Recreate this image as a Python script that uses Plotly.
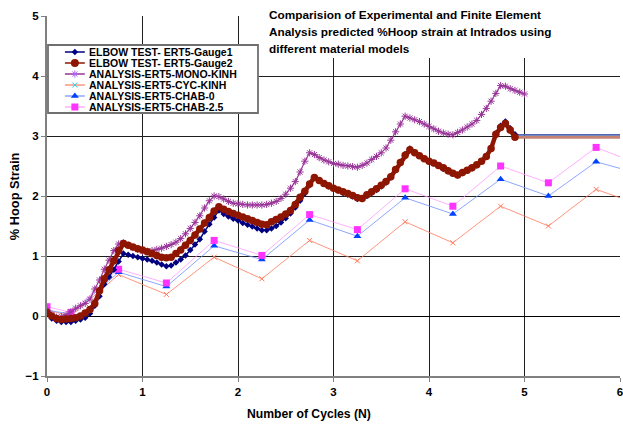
import plotly.graph_objects as go

# ---------------- data ----------------
gauge_x = [0.00, 0.05, 0.10, 0.15, 0.20, 0.25, 0.30, 0.35, 0.40, 0.45,
           0.50, 0.55, 0.60, 0.65, 0.70, 0.75, 0.80, 0.85, 0.90, 0.95,
           1.00, 1.05, 1.10, 1.15, 1.20, 1.25, 1.30, 1.35, 1.40, 1.45,
           1.50, 1.55, 1.60, 1.65, 1.70, 1.75, 1.80, 1.85, 1.90, 1.95,
           2.00, 2.05, 2.10, 2.15, 2.20, 2.25, 2.30, 2.35, 2.40, 2.45,
           2.50, 2.55, 2.60, 2.65, 2.70, 2.75, 2.80, 2.85, 2.90, 2.95,
           3.00, 3.05, 3.10, 3.15, 3.20, 3.25, 3.30, 3.35, 3.40, 3.45,
           3.50, 3.55, 3.60, 3.65, 3.70, 3.75, 3.80, 3.85, 3.90, 3.95,
           4.00, 4.05, 4.10, 4.15, 4.20, 4.25, 4.30, 4.35, 4.40, 4.45,
           4.50, 4.55, 4.60, 4.65, 4.70, 4.75, 4.80, 4.85, 4.90]

gauge1 = [0.03, -0.04, -0.08, -0.10, -0.10, -0.10, -0.08, -0.06, -0.03, 0.04,
          0.17, 0.33, 0.53, 0.65, 0.77, 0.91, 1.04, 1.02, 1.00, 0.98,
          0.96, 0.94, 0.92, 0.89, 0.86, 0.83, 0.84, 0.89, 0.94, 1.01,
          1.10, 1.19, 1.28, 1.41, 1.53, 1.64, 1.76, 1.70, 1.66, 1.62,
          1.59, 1.55, 1.52, 1.49, 1.46, 1.43, 1.43, 1.46, 1.50, 1.56,
          1.63, 1.71, 1.81, 1.92, 2.04, 2.18, 2.31, 2.26, 2.21, 2.16,
          2.12, 2.09, 2.05, 2.02, 1.99, 1.95, 1.95, 2.00, 2.05, 2.10,
          2.16, 2.22, 2.31, 2.44, 2.57, 2.70, 2.79, 2.73, 2.67, 2.62,
          2.57, 2.54, 2.50, 2.45, 2.41, 2.37, 2.34, 2.38, 2.42, 2.46,
          2.51, 2.58, 2.67, 2.80, 3.04, 3.17, 3.24, 3.13, 3.03]

gauge2 = [0.06, 0.00, -0.04, -0.06, -0.05, -0.04, -0.03, 0.00, 0.05, 0.11,
          0.21, 0.42, 0.62, 0.77, 0.92, 1.09, 1.21, 1.18, 1.15, 1.12,
          1.10, 1.07, 1.04, 1.01, 0.98, 0.97, 0.98, 1.04, 1.10, 1.18,
          1.26, 1.35, 1.45, 1.55, 1.64, 1.75, 1.82, 1.78, 1.74, 1.71,
          1.68, 1.65, 1.62, 1.59, 1.56, 1.53, 1.52, 1.57, 1.61, 1.65,
          1.70, 1.76, 1.86, 1.98, 2.08, 2.20, 2.31, 2.26, 2.21, 2.17,
          2.13, 2.10, 2.07, 2.04, 2.01, 1.97, 1.96, 2.02, 2.07, 2.12,
          2.18, 2.24, 2.32, 2.44, 2.56, 2.68, 2.77, 2.72, 2.67, 2.62,
          2.58, 2.55, 2.51, 2.47, 2.42, 2.38, 2.35, 2.39, 2.43, 2.47,
          2.52, 2.58, 2.66, 2.79, 3.03, 3.14, 3.21, 3.10, 2.98]

# constant readings after the test ended
hold_x = [4.91, 6.60]
gauge1_hold = [3.02, 3.02]
gauge2_hold = [2.98, 2.98]

mono_x = gauge_x + [4.95, 5.00]
mono_kinh = [0.10, 0.02, -0.02, -0.01, 0.02, 0.07, 0.13, 0.17, 0.21, 0.28,
             0.45, 0.60, 0.78, 0.93, 1.09, 1.20, 1.22, 1.18, 1.14, 1.11,
             1.08, 1.08, 1.09, 1.11, 1.13, 1.16, 1.19, 1.23, 1.29, 1.37,
             1.46, 1.56, 1.67, 1.80, 1.92, 2.00, 1.99, 1.95, 1.91, 1.88,
             1.87, 1.86, 1.85, 1.85, 1.85, 1.85, 1.86, 1.88, 1.91, 1.96,
             2.03, 2.13, 2.24, 2.40, 2.58, 2.72, 2.69, 2.64, 2.60, 2.57,
             2.54, 2.53, 2.51, 2.50, 2.49, 2.48, 2.51, 2.55, 2.61, 2.66,
             2.72, 2.80, 2.93, 3.07, 3.20, 3.33, 3.30, 3.27, 3.24, 3.20,
             3.16, 3.12, 3.08, 3.05, 3.03, 3.02, 3.06, 3.10, 3.15, 3.20,
             3.26, 3.36, 3.46, 3.58, 3.71, 3.84, 3.83, 3.79, 3.76, 3.73,
             3.70]

fe_x = [0.00, 0.25, 0.75, 1.25, 1.75, 2.25, 2.75, 3.25, 3.75, 4.25, 4.75, 5.25, 5.75, 6.25]
cyc_kinh = [0.10, 0.00, 0.69, 0.36, 0.98, 0.62, 1.26, 0.92, 1.57, 1.22, 1.83, 1.50, 2.11, 1.83]
chab_0 = [0.10, 0.03, 0.73, 0.49, 1.17, 0.94, 1.60, 1.33, 1.97, 1.70, 2.28, 2.00, 2.57, 2.35]
chab_25 = [0.155, 0.06, 0.78, 0.55, 1.26, 1.01, 1.69, 1.44, 2.12, 1.83, 2.50, 2.22, 2.81, 2.50]

series_names = ["ELBOW TEST- ERT5-Gauge1", "ELBOW TEST- ERT5-Gauge2",
                "ANALYSIS-ERT5-MONO-KINH", "ANALYSIS-ERT5-CYC-KINH",
                "ANALYSIS-ERT5-CHAB-0", "ANALYSIS-ERT5-CHAB-2.5"]
x_ticks = [0, 1, 2, 3, 4, 5, 6]
y_ticks = [-1, 0, 1, 2, 3, 4, 5]
title_lines = ["Comparision of Experimental and Finite Element",
               "Analysis predicted %Hoop strain at Intrados using",
               "different material models"]

# ---------------- styles ----------------
FONT = "Liberation Sans, Arial, sans-serif"
styles = [
    dict(line=dict(color="#000080", width=1.5), marker=dict(symbol="diamond", size=5, color="#000080")),
    dict(line=dict(color="#8e1600", width=4.5), marker=dict(symbol="circle", size=7.5, color="#8e1600")),
    dict(line=dict(color="#993399", width=1.2), marker=dict(symbol="asterisk-open", size=6,
                                                          line=dict(color="#b050b0", width=1))),
    dict(line=dict(color="#ff7a5c", width=0.8), marker=dict(symbol="x-thin-open", size=5,
                                                          line=dict(color="#ff6a4a", width=1))),
    dict(line=dict(color="#7090ff", width=0.8), marker=dict(symbol="triangle-up", size=7, color="#0040ff")),
    dict(line=dict(color="#ff9cff", width=0.8), marker=dict(symbol="square", size=7, color="#ff33ff")),
]
legend_line_w = [1.5, 1.5, 1.5, 1.2, 1.2, 1.2]

fig = go.Figure()

fig.add_trace(go.Scatter(x=hold_x, y=gauge2_hold, mode="lines",
                         line=dict(color="#c58373", width=3), showlegend=False))
fig.add_trace(go.Scatter(x=hold_x, y=gauge1_hold, mode="lines",
                         line=dict(color="#4f68b5", width=1.8), showlegend=False))

data = [(fe_x, cyc_kinh, 3), (fe_x, chab_0, 4), (fe_x, chab_25, 5),
        (mono_x, mono_kinh, 2), (gauge_x, gauge1, 0), (gauge_x, gauge2, 1)]
for xs, ys, i in data:
    fig.add_trace(go.Scatter(x=xs, y=ys, mode="lines+markers", name=series_names[i],
                             showlegend=False, **styles[i]))

# ---------------- legend (manual, compact) ----------------
row_y = [36, 47, 58, 69, 80, 91]  # local pixel rows inside overlay axes
for i, name in enumerate(series_names):
    st = styles[i]
    fig.add_trace(go.Scatter(x=[18, 38], y=[row_y[i], row_y[i]], mode="lines",
                             line=dict(color=st["line"]["color"], width=legend_line_w[i]),
                             xaxis="x2", yaxis="y2", showlegend=False, hoverinfo="skip"))
    mk = dict(st["marker"])
    if i == 1:
        mk["size"] = 8
    fig.add_trace(go.Scatter(x=[28], y=[row_y[i]], mode="markers", marker=mk,
                             xaxis="x2", yaxis="y2", showlegend=False, hoverinfo="skip"))
    fig.add_annotation(x=40, y=row_y[i], xref="x2", yref="y2", text="<b>%s</b>" % name,
                       showarrow=False, xanchor="left", yanchor="middle",
                       font=dict(family=FONT, size=10.5, color="black"))

shapes = [
    # legend box
    dict(type="rect", xref="x", yref="y", xsizemode="pixel", ysizemode="pixel",
         xanchor=0, yanchor=5, x0=1, x1=211, y0=-29, y1=-97, layer="between",
         fillcolor="white", line=dict(color="#6f6f6f", width=1.8)),
    # title background
    dict(type="rect", xref="x", yref="y", xsizemode="pixel", ysizemode="pixel",
         xanchor=0, yanchor=5, x0=219, x1=600, y0=20, y1=-42, layer="between",
         fillcolor="white", line=dict(width=0)),
]

title_y = [1.0028, 0.9556, 0.9083]
for t, yy in zip(title_lines, title_y):
    fig.add_annotation(x=0.3837, y=yy, xref="paper", yref="paper", text="<b>%s</b>" % t,
                       showarrow=False, xanchor="left", yanchor="middle",
                       font=dict(family=FONT, size=11.8, color="black"))

fig.add_annotation(x=-0.0573, y=0.5, xref="paper", yref="paper", text="<b>% Hoop Strain</b>",
                   textangle=-90, showarrow=False, xanchor="center", yanchor="middle",
                   font=dict(family=FONT, size=12.8, color="black"))
fig.add_annotation(x=0.4566, y=-0.1056, xref="paper", yref="paper", text="<b>Number of Cycles (N)</b>",
                   showarrow=False, xanchor="center", yanchor="middle",
                   font=dict(family=FONT, size=12.2, color="black"))

tickfont = dict(family=FONT, size=11.5, color="black", weight="bold")
fig.update_layout(
    width=623, height=428,
    margin=dict(l=47, r=0, t=16, b=52),
    paper_bgcolor="white", plot_bgcolor="white",
    showlegend=False,
    shapes=shapes,
    xaxis=dict(range=[0, 6], tickvals=x_ticks, showgrid=True, gridcolor="#1f1f1f", gridwidth=1,
               zeroline=False, showline=True, linecolor="#808080", linewidth=2,
               ticks="outside", ticklen=4, tickcolor="#808080", tickfont=tickfont,
               ticklabeloverflow="allow"),
    yaxis=dict(range=[-1, 5], tickvals=y_ticks, showgrid=True, gridcolor="#1f1f1f", gridwidth=1,
               zeroline=True, zerolinecolor="#000000", zerolinewidth=1,
               showline=True, linecolor="#808080", linewidth=2,
               ticks="outside", ticklen=4, tickcolor="#808080", tickfont=tickfont,
               ticklabeloverflow="allow"),
    xaxis2=dict(overlaying="x", range=[0, 576], visible=False, fixedrange=True),
    yaxis2=dict(overlaying="y", range=[360, 0], visible=False, fixedrange=True),
)

fig.write_html("out.html")
